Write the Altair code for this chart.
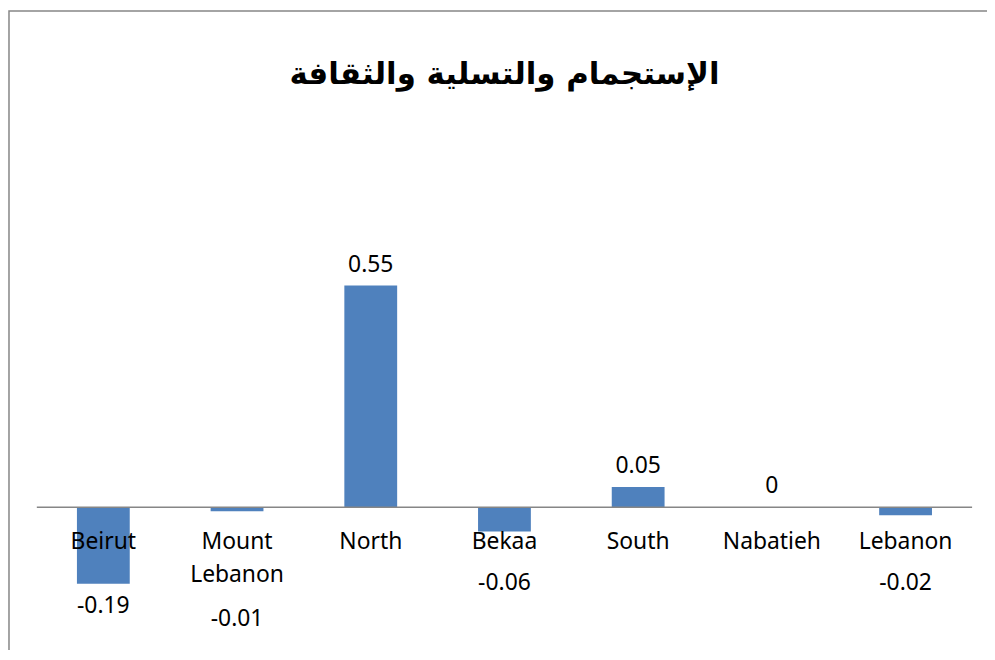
import altair as alt
import pandas as pd

regions = ["Beirut", "Mount Lebanon", "North", "Bekaa", "South", "Nabatieh", "Lebanon"]
values = [-0.19, -0.01, 0.55, -0.06, 0.05, 0, -0.02]
value_labels = ["-0.19", "-0.01", "0.55", "-0.06", "0.05", "0", "-0.02"]
title_text = "الإستجمام والتسلية والثقافة"

df = pd.DataFrame({"region": regions, "value": values, "label": value_labels})

W, H = 941, 365
xscale = alt.Scale(domain=regions, paddingInner=0.605, paddingOuter=0.3)
yscale = alt.Scale(domain=[-0.3, 0.6], nice=False, zero=False)

base = alt.Chart(df)

x_enc = alt.X("region:N", sort=regions, scale=xscale, axis=None)

bars = base.mark_bar(color="#4F81BD").encode(
    x=x_enc,
    y=alt.Y("value:Q", scale=yscale, axis=None),
    y2=alt.Y2(datum=0),
)

zero_line = base.transform_aggregate(n="count()").mark_rule(
    color="#868686", strokeWidth=1.5
).encode(y=alt.Y(datum=0, scale=yscale))

FS = 23

cat_labels = base.mark_text(
    font="Noto Sans", fontSize=FS, color="black", baseline="alphabetic",
    dy=42, lineBreak=" ", lineHeight=33,
).encode(
    x=x_enc,
    y=alt.Y(datum=0, scale=yscale),
    text="region:N",
)

pos_labels = base.transform_filter("datum.value >= 0").mark_text(
    font="Noto Sans", fontSize=FS, color="black", baseline="alphabetic", dy=-14,
).encode(
    x=x_enc,
    y=alt.Y("value:Q", scale=yscale),
    text="label:N",
)

neg_labels = base.transform_filter("datum.value < 0").transform_calculate(
    labelY="min(datum.value, indexof(datum.region, ' ') >= 0 ? -0.222 : -0.133)"
).mark_text(
    font="Noto Sans", fontSize=FS, color="black", baseline="alphabetic", dy=29,
).encode(
    x=x_enc,
    y=alt.Y("labelY:Q", scale=yscale),
    text="label:N",
)

border = base.transform_aggregate(n="count()").mark_rect(
    fillOpacity=0, stroke="#868686", strokeWidth=1.5
).encode(
    x=alt.value(-28), x2=alt.value(1000), y=alt.value(-256), y2=alt.value(420)
)

chart = alt.layer(border, bars, zero_line, cat_labels, pos_labels, neg_labels).properties(
    width=W,
    height=H,
    title=alt.TitleParams(
        text=title_text, font="DejaVu Sans", fontSize=31, fontWeight="bold",
        anchor="middle", offset=-105, color="black", frame="group",
        baseline="alphabetic",
    ),
    autosize=alt.AutoSizeParams(type="none"),
    padding={"left": 29, "top": 257, "right": 15, "bottom": 20},
).configure_view(stroke=None)

chart.save("out.html", embed_options={"renderer": "svg", "actions": False})
